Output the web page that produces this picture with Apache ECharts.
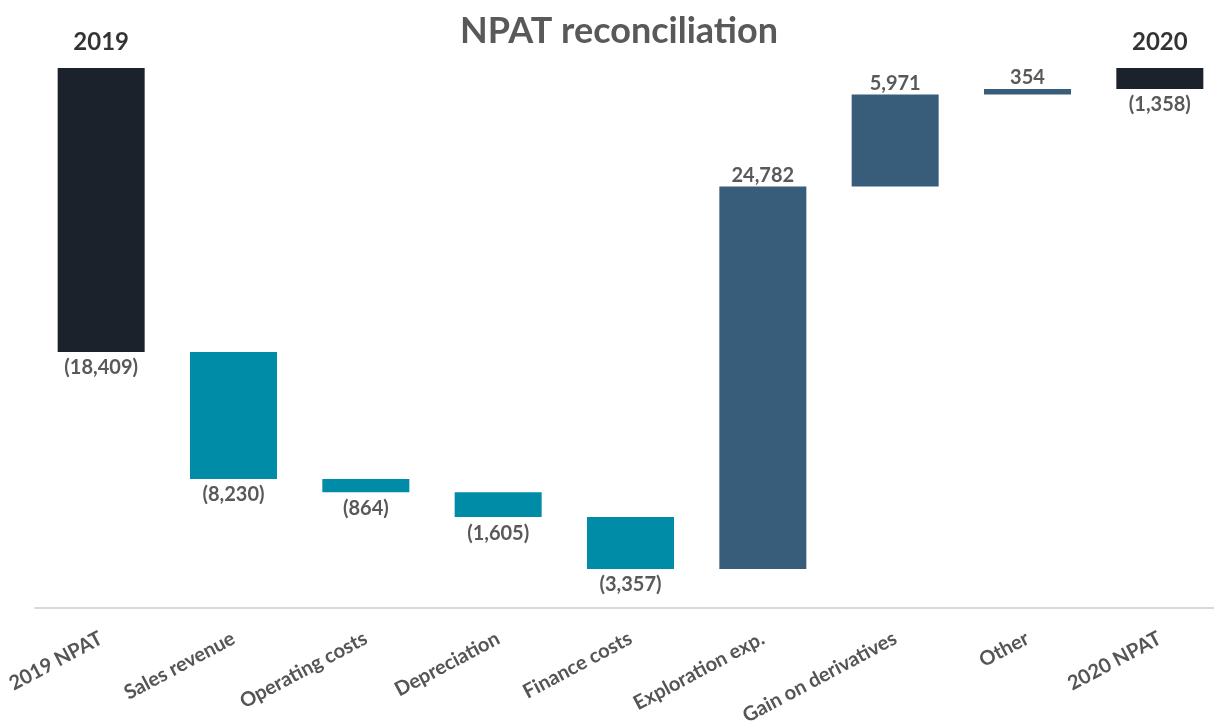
<!DOCTYPE html>
<html>
<head>
<meta charset="utf-8">
<script src="https://cdn.jsdelivr.net/npm/echarts@6/dist/echarts.min.js"></script>
<style>
html,body{margin:0;padding:0;background:#fff;}
#chart{width:1214px;height:728px;}
</style>
</head>
<body>
<div id="chart"></div>
<script>
const categories = ['2019 NPAT','Sales revenue','Operating costs','Depreciation','Finance costs','Exploration exp.','Gain on derivatives','Other','2020 NPAT'];
const values = [-18409, -8230, -864, -1605, -3357, 24782, 5971, 354, -1358];
const kinds = ['total','delta','delta','delta','delta','delta','delta','delta','total'];
const yearLabels = ['2019','','','','','','','','2020'];

const COL_TOTAL = '#1c222b', COL_NEG = '#008ba7', COL_POS = '#385d7a';
const FONT = 'Lato, "Open Sans", sans-serif';

function fmt(v){
  const s = Math.abs(v).toLocaleString('en-US');
  return v < 0 ? '(' + s + ')' : s;
}

// build stacked waterfall from the deltas
let cum = 0;
const baseData = [], barData = [], yearData = [];
values.forEach((v, i) => {
  let top, len;
  if (kinds[i] === 'total') {
    top = 0; len = v;
    cum = v;
  } else {
    const start = cum, end = cum + v;
    top = Math.max(start, end);
    len = -Math.abs(v);
    cum = end;
  }
  const color = kinds[i] === 'total' ? COL_TOTAL : (v < 0 ? COL_NEG : COL_POS);
  baseData.push(top);
  barData.push({
    value: len,
    itemStyle: {color: color},
    label: {position: v < 0 ? 'bottom' : 'top', distance: v < 0 ? 6 : 1, formatter: fmt(v)}
  });
  yearData.push(yearLabels[i] ? {value: 0, label: {formatter: yearLabels[i]}} : null);
});

const chart = echarts.init(document.getElementById('chart'));
chart.setOption({
  animation: false,
  backgroundColor: '#fff',
  title: {
    text: 'NPAT reconciliation',
    left: 614, top: 8, textAlign: 'center',
    textStyle: {fontFamily: FONT, fontWeight: 'bold', fontSize: 36, color: '#595959'}
  },
  grid: {left: 35, right: -12, top: 68, bottom: 120, containLabel: false, outerBoundsMode: 'none'},
  xAxis: {
    type: 'category',
    data: categories,
    axisLine: {show: true, onZero: false, lineStyle: {color: '#d9d9d9', width: 2}},
    axisTick: {show: false},
    axisLabel: {
      rotate: 28, margin: 29, interval: 0,
      fontFamily: FONT, fontWeight: 'bold', fontSize: 20, color: '#555555'
    }
  },
  yAxis: {
    type: 'value', min: -35000, max: 0, show: false,
    splitLine: {show: false}
  },
  series: [
    {
      type: 'bar', stack: 'wf', data: baseData, barWidth: 87,
      itemStyle: {color: 'transparent'}, silent: true
    },
    {
      type: 'bar', stack: 'wf', data: barData, barWidth: 87,
      label: {show: true, fontFamily: FONT, fontWeight: 'bold', fontSize: 20, color: '#595959'}
    },
    {
      type: 'scatter', data: yearData, symbolSize: 0,
      label: {show: true, position: 'top', distance: 14, fontFamily: FONT, fontWeight: 'bold', fontSize: 24, color: '#000'}
    }
  ]
});
</script>
</body>
</html>
